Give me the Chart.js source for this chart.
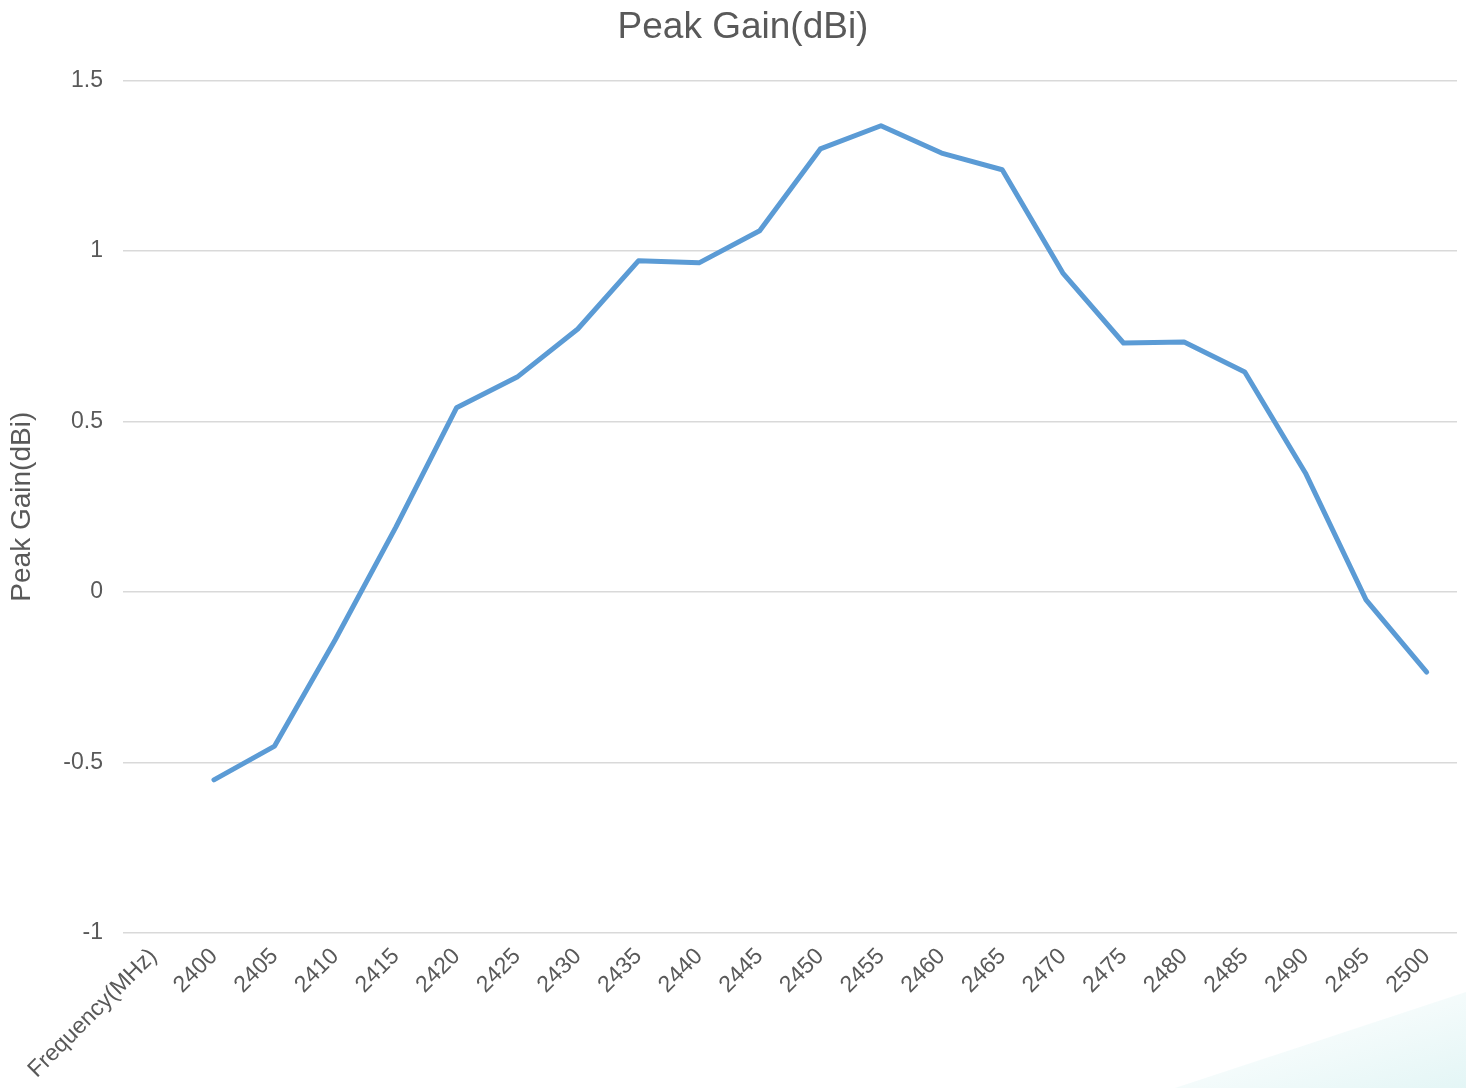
<!DOCTYPE html>
<html>
<head>
<meta charset="utf-8">
<script src="https://cdn.jsdelivr.net/npm/chart.js@4"></script>
<style>
  html, body { margin: 0; padding: 0; background: #ffffff; }
  #wrap { position: relative; width: 1466px; height: 1088px; overflow: hidden; }
  #deco {
    position: absolute; left: 0; top: 0; width: 1466px; height: 1088px;
    background: linear-gradient(162deg, rgba(255,255,255,0) 90%, rgba(226,245,245,0.95) 100%);
    clip-path: polygon(1175px 1088px, 1466px 992px, 1466px 1088px);
  }
  canvas { position: absolute; left: 0; top: 0; }
</style>
</head>
<body>
<div id="wrap">
  <div id="deco"></div>
  <canvas id="line" width="1466" height="1088"></canvas>
</div>
<script>
  // categorie (la prima e' l'etichetta dell'asse, senza valore)
  const frequencies = ['Frequency(MHz)', '2400', '2405', '2410', '2415', '2420', '2425', '2430', '2435',
    '2440', '2445', '2450', '2455', '2460', '2465', '2470', '2475', '2480', '2485', '2490', '2495', '2500'];

  // valori
  const peakGain = [null, -0.551, -0.452, -0.14, 0.19, 0.54, 0.63, 0.771, 0.971,
    0.965, 1.059, 1.299, 1.367, 1.287, 1.238, 0.935, 0.730, 0.733, 0.645, 0.349, -0.023, -0.235];

  const yTicks = [-1, -0.5, 0, 0.5, 1, 1.5];

  const titleText = 'Peak Gain(dBi)';
  const grey = '#595959';
  const font = "'Liberation Sans', Arial, sans-serif";

  // titolo centrato sulla pagina intera (il plugin title lo centra sull'area del grafico)
  const pageTitle = {
    id: 'pageTitle',
    afterDraw(chart) {
      const c = chart.ctx;
      c.save();
      c.font = '37px ' + font;
      c.fillStyle = grey;
      c.textAlign = 'center';
      c.textBaseline = 'middle';
      c.fillText(titleText, chart.width / 2 + 10, 28);
      c.restore();
    }
  };

  let ctx = document.querySelector('#line');

  const myChart = new Chart(ctx, {
    type: 'line',
    data: {
      labels: frequencies,
      datasets: [{
        label: titleText,
        data: peakGain,
        borderColor: '#5B9BD5',
        backgroundColor: '#5B9BD5',
        borderWidth: 5,
        pointRadius: 0,
        tension: 0,
        borderCapStyle: 'round',
        borderJoinStyle: 'round'
      }]
    },
    plugins: [pageTitle],
    options: {
      responsive: false,
      animation: false,
      layout: { padding: { left: 0, right: 9, top: 0, bottom: 0 } },
      plugins: {
        legend: { display: false },
        tooltip: { enabled: false },
        title: {
          // solo per riservare lo spazio, il testo lo disegna pageTitle
          display: true,
          text: titleText,
          color: 'rgba(0,0,0,0)',
          font: { family: font, size: 37, weight: 'normal' },
          padding: { top: 6, bottom: 30 }
        }
      },
      scales: {
        x: {
          offset: true,
          grid: { display: false, drawTicks: false },
          border: { display: false },
          ticks: {
            color: grey,
            font: { family: font, size: 23 },
            minRotation: 45,
            maxRotation: 45,
            autoSkip: false,
            padding: 10
          },
          afterFit: (scale) => { scale.height = 155; }
        },
        y: {
          min: -1,
          max: 1.5,
          afterBuildTicks: (scale) => { scale.ticks = yTicks.map(v => ({ value: v })); },
          grid: { color: '#d9d9d9', lineWidth: 1.5, drawTicks: false },
          border: { display: false },
          ticks: {
            color: grey,
            font: { family: font, size: 23 },
            padding: 20,
            callback: (v) => String(v)
          },
          title: {
            display: true,
            text: titleText,
            color: grey,
            font: { family: font, size: 28 },
            padding: { top: 5, bottom: 0 }
          },
          afterFit: (scale) => { scale.width = 123; }
        }
      }
    }
  });
</script>
</body>
</html>
